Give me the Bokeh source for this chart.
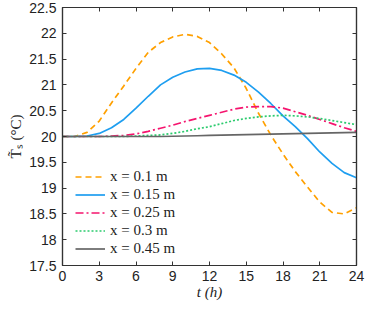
from bokeh.plotting import figure
from bokeh.models import LinearAxis, Range1d, FixedTicker, Legend, LegendItem
from bokeh.embed import file_html
from bokeh.resources import INLINE

hours = list(range(0, 25))
T_010 = [20.0, 20.0, 20.08, 20.3, 20.65, 20.98, 21.32, 21.63, 21.82, 21.93, 21.98, 21.94, 21.82,
         21.6, 21.33, 20.93, 20.45, 20.03, 19.66, 19.32, 19.02, 18.73, 18.53, 18.5, 18.62]
T_015 = [20.0, 20.0, 20.01, 20.06, 20.17, 20.33, 20.55, 20.78, 21.0, 21.15, 21.25, 21.31, 21.32,
         21.28, 21.19, 21.05, 20.86, 20.64, 20.4, 20.19, 19.96, 19.7, 19.48, 19.3, 19.2]
T_025 = [20.0, 20.0, 20.0, 20.0, 20.01, 20.02, 20.05, 20.1, 20.16, 20.22, 20.29, 20.35, 20.41,
         20.47, 20.53, 20.57, 20.58, 20.58, 20.55, 20.48, 20.41, 20.33, 20.25, 20.17, 20.1]
T_030 = [20.0, 20.0, 20.0, 20.0, 20.0, 20.0, 20.01, 20.02, 20.03, 20.06, 20.1, 20.15, 20.19,
         20.25, 20.31, 20.35, 20.38, 20.4, 20.41, 20.4, 20.38, 20.35, 20.31, 20.27, 20.23]
T_045 = [20.0, 20.0, 20.0, 20.0, 20.0, 20.0, 20.0, 20.0, 20.0, 20.005, 20.01, 20.015, 20.02,
         20.025, 20.03, 20.035, 20.04, 20.045, 20.05, 20.055, 20.06, 20.065, 20.07, 20.075, 20.08]

labels = ["x = 0.1 m", "x = 0.15 m", "x = 0.25 m", "x = 0.3 m", "x = 0.45 m"]
colors = ["#FFA000", "#1E9EF0", "#F5146E", "#2BCB6E", "#666666"]
dashes = ["6 4", "solid", "8 3 2 3", "2 2", "solid"]
series = [T_010, T_015, T_025, T_030, T_045]

x_ticks = [0, 3, 6, 9, 12, 15, 18, 21, 24]
y_ticks = [17.5, 18, 18.5, 19, 19.5, 20, 20.5, 21, 21.5, 22, 22.5]
y_tick_labels = ["17.5", "18", "18.5", "19", "19.5", "20", "20.5", "21", "21.5", "22", "22.5"]

p = figure(width=366, height=302, output_backend="svg", toolbar_location=None,
           x_range=Range1d(0, 24), y_range=Range1d(17.5, 22.5),
           min_border_left=62, min_border_right=10, min_border_top=7, min_border_bottom=0)
p.grid.visible = False
p.outline_line_color = "#333333"
p.outline_line_width = 1.2
p.background_fill_color = "white"

p.add_layout(LinearAxis(), "above")
p.add_layout(LinearAxis(), "right")

tick_font = "Liberation Sans"
for ax in p.xaxis:
    ax.ticker = FixedTicker(ticks=x_ticks)
for ax in p.yaxis:
    ax.ticker = FixedTicker(ticks=y_ticks)
    ax.major_label_overrides = {t: s for t, s in zip(y_ticks, y_tick_labels)}
for ax in p.axis:
    ax.major_tick_in = 4
    ax.major_tick_out = 0
    ax.minor_tick_in = 0
    ax.minor_tick_out = 0
    ax.axis_line_color = "#333333"
    ax.axis_line_width = 1.2
    ax.major_tick_line_color = "#333333"
    ax.major_label_text_font = tick_font
    ax.major_label_text_font_size = "14px"
    ax.major_label_text_color = "#222222"
    ax.major_label_standoff = 6
p.below[0].major_label_standoff = 5

for ax in (p.above[0], p.right[0]):
    ax.major_label_text_alpha = 0
    ax.major_label_text_font_size = "0px"
    ax.major_label_standoff = 0
    ax.major_label_overrides = {t: "" for t in (x_ticks + y_ticks)}

p.below[0].axis_label = "t (h)"
p.left[0].axis_label = "T\u0303\u209b (°C)"
for ax in (p.below[0], p.left[0]):
    ax.axis_label_text_font = "Liberation Serif"
    ax.axis_label_text_font_style = "normal"
    ax.axis_label_text_font_size = "15px"
    ax.axis_label_text_color = "#222222"
    ax.axis_label_standoff = 2
p.below[0].axis_label_text_font_style = "italic"
p.below[0].axis_label_standoff = 0

items = []
for lab, col, dash, ys in zip(labels, colors, dashes, series):
    r = p.line(hours, ys, line_color=col, line_width=1.7, line_dash=dash)
    items.append(LegendItem(label=lab, renderers=[r]))

legend = Legend(items=items, location=(5, 0), border_line_alpha=0,
                background_fill_alpha=0, label_text_font="Liberation Serif",
                label_text_font_size="15px", label_text_color="#222222",
                glyph_width=30, glyph_height=15, label_height=15, spacing=1,
                padding=8, label_standoff=5)
p.add_layout(legend, "center")

open("out.html", "w").write(file_html(p, INLINE))
